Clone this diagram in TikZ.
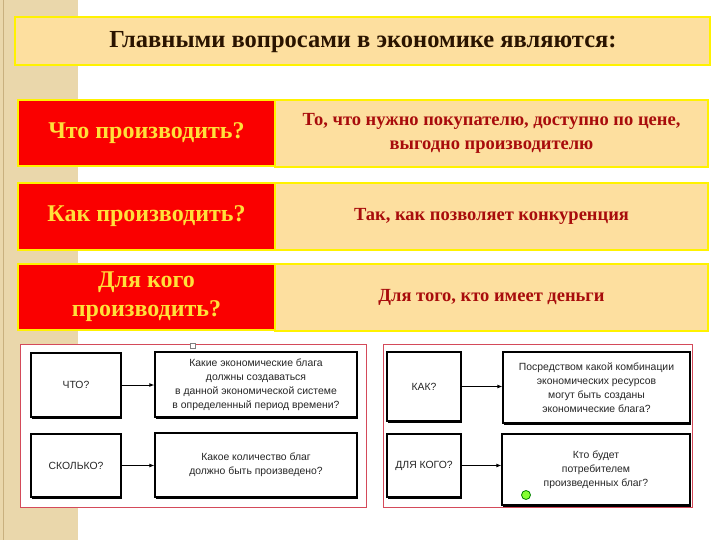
\documentclass[tikz,border=0pt]{standalone}
\usepackage{fontspec}
\setmainfont{Liberation Serif}
\newfontfamily\diagfont{Liberation Sans}
\usetikzlibrary{arrows.meta,shadows}
\definecolor{strip}{HTML}{EAD7AB}
\definecolor{stripedge}{HTML}{C9B07E}
\definecolor{beige}{HTML}{FDDF9F}
\definecolor{ybord}{HTML}{FFF200}
\definecolor{redbox}{HTML}{FA0000}
\definecolor{goldtxt}{HTML}{FFE03A}
\definecolor{darkred}{HTML}{A80C0C}
\definecolor{titletxt}{HTML}{2A1400}
\definecolor{panelbord}{HTML}{D44A5A}
\tikzset{
  titlebox/.style={draw=ybord, line width=2pt, fill=beige, minimum width=695pt, minimum height=48pt, inner sep=0pt},
  qbox/.style={draw=ybord, line width=2pt, fill=redbox, minimum width=257pt, minimum height=66pt, inner sep=0pt, text=goldtxt, font=\fontsize{24}{29}\selectfont\bfseries, align=center},
  abox/.style={draw=ybord, line width=2pt, fill=beige, minimum width=433pt, minimum height=67pt, inner sep=0pt, text=darkred, font=\fontsize{18.5}{24}\selectfont\bfseries, align=center},
  panel/.style={draw=panelbord, line width=0.8pt, fill=white, inner sep=0pt},
  dbox/.style={draw=black, line width=1.2pt, fill=white, inner sep=0pt, align=center, text=black!85, font=\diagfont\fontsize{10.4}{14}\selectfont, drop shadow={shadow xshift=1.3pt, shadow yshift=-1.6pt, fill=black, opacity=1}},
  darr/.style={draw=black, line width=1pt, -{Latex[length=5pt,width=4pt]}}
}
\begin{document}
\begin{tikzpicture}[x=1pt,y=-1pt]
\useasboundingbox (0,0) rectangle (720,540);
\fill[white] (0,0) rectangle (720,540);
% left strip
\fill[strip] (0,0) rectangle (78,540);
\draw[stripedge, line width=1pt] (3,0) -- (3,540);
% title
\node[titlebox] (title) at (362.5,41) {};
\node[font=\fontsize{24.5}{28}\selectfont\bfseries, text=titletxt] (titletext) at (363,42) {Главными вопросами в экономике являются:};
% rows
\node[qbox] (q1) at (146.5,133) {Что производить?};
\node[abox] (a1) at (491.5,133.5) {То, что нужно покупателю, доступно по цене,\\выгодно производителю};
\node[qbox] (q2) at (146.5,216.5) {Как производить?};
\node[abox] (a2) at (491.5,216.5) {Так, как позволяет конкуренция};
\node[qbox] (q3) at (146.5,296.5) {Для кого\\производить?};
\node[abox] (a3) at (491.5,297) {Для того, кто имеет деньги};
% bottom left panel
\node[panel, minimum width=346pt, minimum height=163pt] (pl) at (193,425.5) {};
\node[draw=gray, fill=white, line width=0.6pt, minimum size=5pt, inner sep=0pt] (handle) at (193,346) {};
\node[dbox, minimum width=90pt, minimum height=64pt] (b1) at (76,385) {ЧТО?};
\node[dbox, minimum width=202pt, minimum height=65pt] (c1) at (256,384.5) {Какие экономические блага\\должны создаваться\\в данной экономической системе\\в определенный период времени?};
\node[dbox, minimum width=90pt, minimum height=63pt] (b2) at (76,465.5) {СКОЛЬКО?};
\node[dbox, minimum width=202pt, minimum height=64pt] (c2) at (256,465) {Какое количество благ\\должно быть произведено?};
\draw[darr] (b1.east) -- (b1.east -| c1.west);
\draw[darr] (b2.east) -- (b2.east -| c2.west);
% bottom right panel
\node[panel, minimum width=309pt, minimum height=163pt] (pr) at (537.5,425.5) {};
\node[dbox, minimum width=74pt, minimum height=69pt] (b3) at (424,386.5) {КАК?};
\node[dbox, minimum width=187pt, minimum height=71pt] (c3) at (596.5,387.5) {Посредством какой комбинации\\экономических ресурсов\\могут быть созданы\\экономические блага?};
\node[dbox, minimum width=74pt, minimum height=63pt] (b4) at (424,465.5) {ДЛЯ КОГО?};
\node[dbox, minimum width=188pt, minimum height=71pt] (c4) at (596,469.5) {Кто будет\\потребителем\\произведенных благ?};
\draw[darr] (b3.east) -- (b3.east -| c3.west);
\draw[darr] (b4.east) -- (b4.east -| c4.west);
\node[circle, fill=green!60!yellow!80, draw=green!50!black, line width=0.8pt, minimum size=9pt, inner sep=0pt] (dot) at (526,495) {};
\end{tikzpicture}
\end{document}
